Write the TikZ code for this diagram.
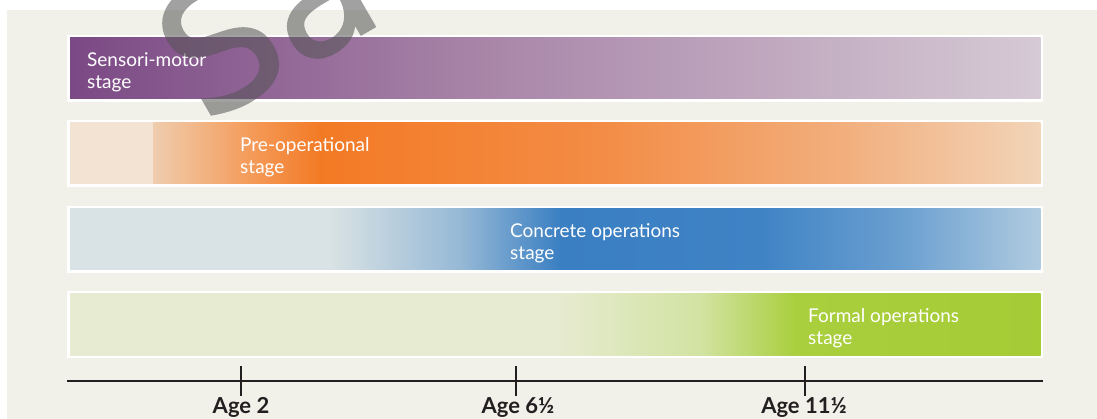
\documentclass[tikz,border=0pt]{standalone}
\usepackage{fontspec}
\setmainfont{Lato}
\newfontfamily\markfont[FakeBold=1.5]{DejaVu Sans}
\definecolor{paper}{HTML}{F1F0E9}
\definecolor{ink}{HTML}{231F20}
% colour stops of the stage bars
\definecolor{pa}{HTML}{7B4985}\definecolor{pb}{HTML}{A885A8}\definecolor{pc}{HTML}{D6CAD5}
\definecolor{oa}{HTML}{F2E3D2}\definecolor{ob}{HTML}{EFCDAE}\definecolor{oc}{HTML}{F4A062}
\definecolor{od}{HTML}{F37A25}\definecolor{oe}{HTML}{F38C45}\definecolor{of}{HTML}{F2B07F}\definecolor{og}{HTML}{F2D4B8}
\definecolor{ba}{HTML}{D9E2E4}\definecolor{bb}{HTML}{96B9D6}\definecolor{bc}{HTML}{3A7FC2}
\definecolor{bd}{HTML}{3F83C5}\definecolor{be}{HTML}{6A9FD0}\definecolor{bf}{HTML}{B0CBE0}
\definecolor{ga}{HTML}{E7EBD1}\definecolor{gb}{HTML}{D2E3A2}\definecolor{gc}{HTML}{A9CF3E}\definecolor{gd}{HTML}{A5CB35}
\newcommand{\gradstrip}[5]{%
  \shade[left color=#2,right color=#4] (#1,#5) rectangle (#3+0.6,#5+61);}
\begin{document}
\begin{tikzpicture}[x=1pt,y=-1pt,
  frame/.style={draw=none,fill=white,minimum width=976pt,minimum height=67pt,inner sep=0pt,anchor=north west},
  stagelabel/.style={text=white,align=left,anchor=north west,inner sep=0pt,font=\fontsize{19}{22}\selectfont},
  agelabel/.style={text=ink,anchor=base,inner sep=0pt,font=\fontsize{22}{24}\selectfont\bfseries},
  axisline/.style={draw=ink,line width=1.2pt},
  tick/.style={draw=ink,line width=1.2pt}]
\useasboundingbox (0,0) rectangle (1097,419);
\fill[white] (0,0) rectangle (1097,419);
\fill[paper] (7,10) rectangle (1097,419);

% white frames of the four stage bars
\node[frame] (sensori)  at (67,35)  {};
\node[frame] (preop)    at (67,120) {};
\node[frame] (concrete) at (67,206) {};
\node[frame] (formal)   at (67,291) {};

% gradient fills, one shaded strip between each pair of colour stops
\foreach \xa/\ca/\xb/\cb in {70/pa/480/pb,480/pb/1040/pc}
  {\gradstrip{\xa}{\ca}{\xb}{\cb}{38}}
\foreach \xa/\ca/\xb/\cb in {70/oa/153/oa,153/ob/240/oc,240/oc/320/od,320/od/600/oe,600/oe/850/of,850/of/1040/og}
  {\gradstrip{\xa}{\ca}{\xb}{\cb}{123}}
\foreach \xa/\ca/\xb/\cb in {70/ba/330/ba,330/ba/460/bb,460/bb/560/bc,560/bc/760/bd,760/bd/900/be,900/be/1040/bf}
  {\gradstrip{\xa}{\ca}{\xb}{\cb}{209}}
\foreach \xa/\ca/\xb/\cb in {70/ga/555/ga,555/ga/700/gb,700/gb/795/gc,795/gc/1040/gd}
  {\gradstrip{\xa}{\ca}{\xb}{\cb}{294}}

% stage names
\node[stagelabel] (tsensori)  at (87,52)  {Sensori-motor\\stage};
\node[stagelabel] (tpreop)    at (240,137) {Pre-operational\\stage};
\node[stagelabel] (tconcrete) at (510,223) {Concrete operations\\stage};
\node[stagelabel] (tformal)   at (808,308) {Formal operations\\stage};

% age axis
\coordinate (axl) at (67,381);
\coordinate (axr) at (1043,381);
\draw[axisline] (axl) -- (axr);
\coordinate (t1a) at (241,366); \coordinate (t1b) at (241,396);
\coordinate (t2a) at (516,366); \coordinate (t2b) at (516,396);
\coordinate (t3a) at (805,366); \coordinate (t3b) at (805,396);
\draw[tick] (t1a) -- (t1b);
\draw[tick] (t2a) -- (t2b);
\draw[tick] (t3a) -- (t3b);
\node[agelabel] (age1) at (241,413) {Age 2};
\node[agelabel] (age2) at (518,413) {Age 6½};
\node[agelabel] (age3) at (804,413) {Age 11½};

% watermark, composited as one group so the emboldened strokes do not double up
\begin{scope}[transparency group,opacity=0.55]
\node[text=black!67,rotate=30,anchor=base west,inner sep=0pt,font=\markfont\fontsize{170}{170}\selectfont] (mark) at (204,125) {Sa};
\end{scope}
\end{tikzpicture}
\end{document}
